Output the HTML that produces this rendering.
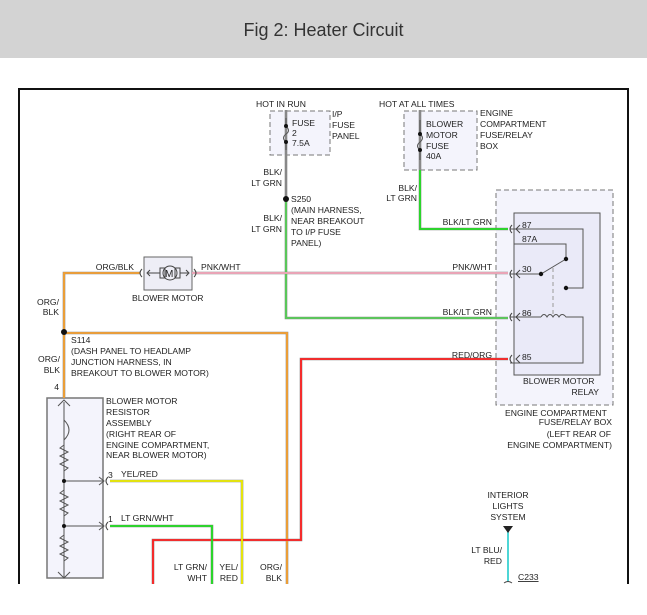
<!DOCTYPE html>
<html><head><style>
body{margin:0;width:647px;height:615px;background:#fff;overflow:hidden;font-family:"Liberation Sans",sans-serif}
.hd{position:absolute;left:0;top:0;width:647px;height:58px;background:#d3d3d3;text-align:center;line-height:60px;font-size:18px;color:#333}
svg{position:absolute;left:0;top:0}
text{font-family:"Liberation Sans",sans-serif;font-size:8.6px;fill:#222}
</style></head><body>
<div class="hd">Fig 2: Heater Circuit</div>
<svg width="647" height="615">
<path d="M19 584V89H628V584" fill="none" stroke="#111" stroke-width="2"/>
<rect x="270" y="111" width="60" height="44" fill="#f4f4fc" stroke="#777" stroke-dasharray="5,3"/>
<rect x="404" y="111" width="73" height="59" fill="#f4f4fc" stroke="#777" stroke-dasharray="5,3"/>
<rect x="496" y="190" width="117" height="215" fill="#f4f4fc" stroke="#777" stroke-dasharray="5,3"/>
<rect x="514" y="213" width="86" height="162" fill="#eaeaf8" stroke="#555"/>
<rect x="144" y="257" width="48" height="33" fill="#eeeef6" stroke="#666"/>
<rect x="47" y="398" width="56" height="180" fill="#f4f4fc" stroke="#777" stroke-width="1.5"/>
<g fill="none" stroke="#888" stroke-width="2.6">
<path d="M286 110V318H508"/><path d="M420 110V229H508"/>
<path d="M192 273H508"/><path d="M140 273H64V398"/><path d="M64 333H287V584"/>
<path d="M508 359H301V540H153V584"/><path d="M110 481H242V584"/><path d="M110 526H212V584"/>
</g>
<g fill="none" stroke-width="1.8">
<path d="M286 200V318H508" stroke="#5c5"/><path d="M420 170V229H508" stroke="#2d2"/>
<path d="M192 273H508" stroke="#f7a8bc"/><path d="M140 273H64V398" stroke="#f5a030"/><path d="M64 333H287V584" stroke="#f5a030"/>
<path d="M508 359H301V540H153V584" stroke="#f22"/><path d="M110 481H242V584" stroke="#ee0"/><path d="M110 526H212V584" stroke="#2d2"/>
</g>
<g fill="none" stroke="#555" stroke-width="1">
<path d="M510 229H583V288H566"/><path d="M514 244H566V259"/><path d="M510 274H541L566 259"/>
<path d="M510 317H541"/><path d="M541 317q3-5 6 0q3-5 6 0q3-5 6 0q3-5 7 0H583V363H510"/>
<path d="M553 268V316" stroke="#999" stroke-dasharray="4,3"/>
<path d="M64 402V578M58 406L64 400L70 406M58 572L64 578L70 572"/>
<path d="M64 420q10 10 0 20M64 445l-4 3 8 4-8 4 8 4-8 4 8 4-4 3M64 490l-4 3 8 4-8 4 8 4-8 4 8 4-4 3M64 535l-4 3 8 4-8 4 8 4-8 4 8 4-4 3"/>
<path d="M64 481H104M64 526H104M99 477l5 4-5 4M99 522l5 4-5 4"/>
<path d="M286 118V126M286 142V150M286 126q5 5 0 8q-5 4 0 8"/>
<path d="M420 120V134M420 150V160M420 134q5 4 0 8q-5 4 0 8"/>
</g>
<g fill="none" stroke="#444" stroke-width="1">
<path d="M512 225q-4 4 0 8M512 270q-4 4 0 8M512 313q-4 4 0 8M512 355q-4 4 0 8"/>
<path d="M520 225l-4 4 4 4M520 270l-4 4 4 4M520 313l-4 4 4 4M520 355l-4 4 4 4"/>
<path d="M108 477q-4 4 0 8M108 522q-4 4 0 8M142 269q-4 4 0 8M194 269q4 4 0 8"/>
<path d="M148 273H160M180 273H188M150 270l-3 3 3 3M186 270l3 3-3 3"/>
<rect x="160" y="268" width="5" height="10"/><rect x="175" y="268" width="5" height="10"/>
<circle cx="170" cy="273" r="7"/>
</g>
<text x="165" y="277" style="font-size:10px">M</text>
<g fill="#111"><circle cx="286" cy="199" r="3"/><circle cx="64" cy="332" r="3"/><circle cx="541" cy="274" r="2.2"/><circle cx="566" cy="259" r="2.2"/><circle cx="566" cy="288" r="2.2"/><circle cx="64" cy="481" r="2"/><circle cx="64" cy="526" r="2"/>
<circle cx="286" cy="126" r="2"/><circle cx="286" cy="142" r="2"/><circle cx="420" cy="134" r="2"/><circle cx="420" cy="150" r="2"/></g>
<path d="M508 527V582" stroke="#2cc" stroke-width="1.6"/><path d="M503 526h10l-5 7z" fill="#222"/>
<path d="M504 583q4-3 8 0" fill="none" stroke="#444"/>
<text x="256" y="107">HOT IN RUN</text>
<text x="292" y="126">FUSE</text><text x="292" y="136">2</text><text x="292" y="146">7.5A</text>
<text x="332" y="117">I/P</text><text x="332" y="128">FUSE</text><text x="332" y="139">PANEL</text>
<text x="379" y="107">HOT AT ALL TIMES</text>
<text x="426" y="127">BLOWER</text><text x="426" y="138">MOTOR</text><text x="426" y="149">FUSE</text><text x="426" y="159">40A</text>
<text x="480" y="116">ENGINE</text><text x="480" y="127">COMPARTMENT</text><text x="480" y="138">FUSE/RELAY</text><text x="480" y="149">BOX</text>
<g text-anchor="end"><text x="282" y="175">BLK/</text><text x="282" y="186">LT GRN</text>
<text x="282" y="221">BLK/</text><text x="282" y="232">LT GRN</text>
<text x="417" y="191">BLK/</text><text x="417" y="201">LT GRN</text>
<text x="492" y="225">BLK/LT GRN</text><text x="492" y="270">PNK/WHT</text><text x="492" y="315">BLK/LT GRN</text><text x="492" y="358">RED/ORG</text>
<text x="134" y="270">ORG/BLK</text><text x="59" y="305">ORG/</text><text x="59" y="315">BLK</text>
<text x="60" y="362">ORG/</text><text x="60" y="373">BLK</text><text x="59" y="390">4</text>
<text x="207" y="570">LT GRN/</text><text x="207" y="581">WHT</text><text x="238" y="570">YEL/</text><text x="238" y="581">RED</text><text x="282" y="570">ORG/</text><text x="282" y="581">BLK</text>
<text x="502" y="553">LT BLU/</text><text x="502" y="564">RED</text>
<text x="599" y="395">RELAY</text><text x="612" y="425">FUSE/RELAY BOX</text><text x="611" y="437">(LEFT REAR OF</text><text x="612" y="448">ENGINE COMPARTMENT)</text>
</g>
<text x="291" y="202">S250</text><text x="291" y="213">(MAIN HARNESS,</text><text x="291" y="224">NEAR BREAKOUT</text><text x="291" y="235">TO I/P FUSE</text><text x="291" y="246">PANEL)</text>
<text x="201" y="270">PNK/WHT</text><text x="132" y="301">BLOWER MOTOR</text>
<text x="71" y="343">S114</text><text x="71" y="354">(DASH PANEL TO HEADLAMP</text><text x="71" y="365">JUNCTION HARNESS, IN</text><text x="71" y="376">BREAKOUT TO BLOWER MOTOR)</text>
<text x="106" y="404">BLOWER MOTOR</text><text x="106" y="415">RESISTOR</text><text x="106" y="426">ASSEMBLY</text><text x="106" y="437">(RIGHT REAR OF</text><text x="106" y="448">ENGINE COMPARTMENT,</text><text x="106" y="458">NEAR BLOWER MOTOR)</text>
<text x="108" y="478">3</text><text x="121" y="477">YEL/RED</text><text x="108" y="522">1</text><text x="121" y="521">LT GRN/WHT</text>
<text x="522" y="228">87</text><text x="522" y="242">87A</text><text x="522" y="272">30</text><text x="522" y="316">86</text><text x="522" y="360">85</text>
<text x="523" y="384">BLOWER MOTOR</text><text x="505" y="416">ENGINE COMPARTMENT</text>
<text x="508" y="498" text-anchor="middle">INTERIOR</text><text x="508" y="509" text-anchor="middle">LIGHTS</text><text x="508" y="520" text-anchor="middle">SYSTEM</text>
<text x="518" y="580" text-decoration="underline">C233</text>
</svg>
</body></html>
